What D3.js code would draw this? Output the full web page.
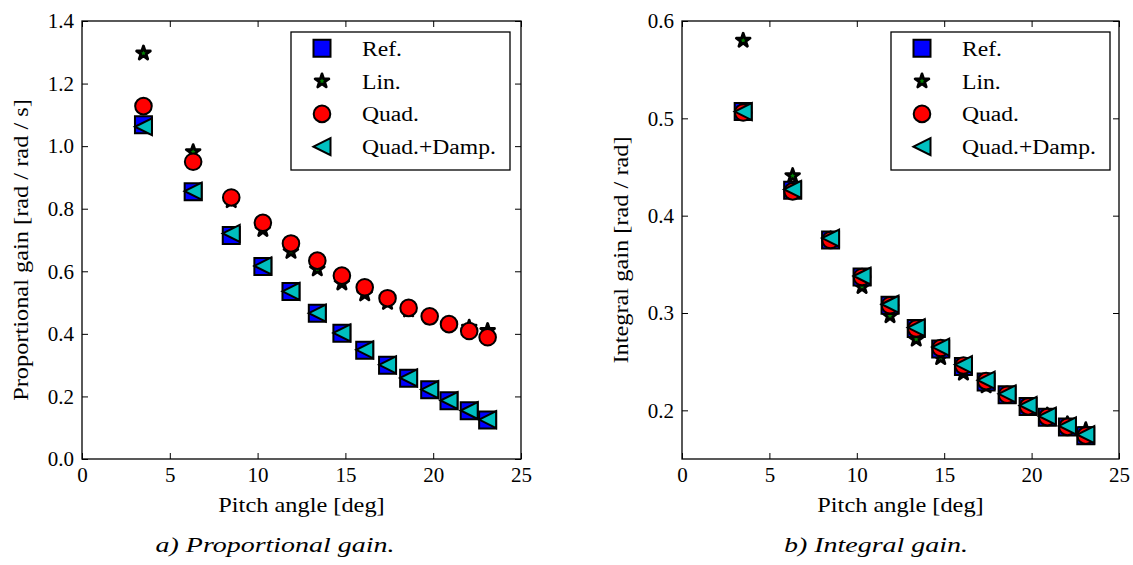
<!DOCTYPE html>
<html><head><meta charset="utf-8">
<script src="https://cdn.jsdelivr.net/npm/d3@7"></script>
<style>
body{margin:0;background:#fff}
text{font-family:"Liberation Serif",serif;fill:#000}
</style>
</head><body>
<svg id="c" width="1133" height="565"></svg>
<script>
// ---- data ----
const pitch = [3.5, 6.33, 8.5, 10.3, 11.9, 13.4, 14.8, 16.1, 17.4, 18.6, 19.8, 20.9, 22.05, 23.1];

const refP  = [1.068, 0.854, 0.714, 0.615, 0.535, 0.466, 0.402, 0.348, 0.300, 0.258, 0.221, 0.186, 0.154, 0.125];
const linP  = [1.297, 0.982, 0.825, 0.733, 0.663, 0.607, 0.562, 0.527, 0.500, 0.476, 0.453, 0.431, 0.421, 0.410];
const quadP = [1.128, 0.950, 0.836, 0.755, 0.689, 0.634, 0.586, 0.549, 0.514, 0.483, 0.456, 0.431, 0.409, 0.389];
const dampP = [1.062, 0.856, 0.721, 0.617, 0.536, 0.466, 0.403, 0.349, 0.301, 0.259, 0.222, 0.187, 0.155, 0.126];

const refI  = [0.507, 0.426, 0.375, 0.337, 0.308, 0.284, 0.263, 0.245, 0.229, 0.216, 0.204, 0.193, 0.183, 0.174];
const linI  = [0.580, 0.441, 0.376, 0.327, 0.297, 0.273, 0.254, 0.238, 0.225, 0.214, 0.203, 0.195, 0.186, 0.180];
const quadI = [0.506, 0.425, 0.375, 0.337, 0.308, 0.284, 0.264, 0.246, 0.230, 0.216, 0.204, 0.193, 0.183, 0.174];
const dampI = [0.507, 0.427, 0.377, 0.338, 0.309, 0.285, 0.265, 0.247, 0.231, 0.217, 0.205, 0.194, 0.184, 0.175];

const seriesNames = ["Ref.", "Lin.", "Quad.", "Quad.+Damp."];
const xTicks  = [0, 5, 10, 15, 20, 25];
const yTicksP = [0.0, 0.2, 0.4, 0.6, 0.8, 1.0, 1.2, 1.4];
const yTicksI = [0.2, 0.3, 0.4, 0.5, 0.6];
const xLabel = "Pitch angle [deg]";
const yLabels = ["Proportional gain [rad / rad / s]", "Integral gain [rad / rad]"];
const captions = ["a) Proportional gain.", "b) Integral gain."];

// ---- drawing ----
const svg = d3.select("#c");
svg.append("rect").attr("width",1133).attr("height",565).attr("fill","#fff");

function stretch(sel, k){
  sel.each(function(){
    const w = this.getComputedTextLength();
    this.setAttribute("textLength", w*k);
    this.setAttribute("lengthAdjust","spacingAndGlyphs");
  });
}

const TOP = 21, BOT = 459;
const markers = {
  "Ref.":        {path: d3.symbol(d3.symbolSquare, 17*17)(), fill:"#0000ff", sw:2},
  "Lin.":        {path: d3.symbol(d3.symbolStar, 7.2*7.2/0.8908130915292852)(), fill:"#008000", sw:2.8},
  "Quad.":       {path: d3.symbol(d3.symbolCircle, Math.PI*8.3*8.3)(), fill:"#ff0000", sw:2},
  "Quad.+Damp.": {path: (h => `M${-h},0L${h},${-h}L${h},${h}Z`)(8.5), fill:"#00bfbf", sw:2}
};

function panel(cfg){
  const g = svg.append("g");
  const x = d3.scaleLinear().domain([0,25]).range([cfg.x0, cfg.x1]);
  const y = d3.scaleLinear().domain(cfg.yDomain).range([BOT, TOP]);

  const styleAxis = a => {
    a.select(".domain").remove();
    a.selectAll("line").attr("stroke","#000").attr("stroke-width",1);
    a.selectAll("text").attr("font-family","Liberation Serif").attr("font-size",21).attr("fill","#000");
    a.attr("font-family",null);
  };

  g.append("g").attr("transform",`translate(0,${BOT})`)
    .call(d3.axisBottom(x).tickValues(xTicks).tickFormat(d3.format("d")).tickSizeInner(-6).tickSizeOuter(0).tickPadding(8))
    .call(styleAxis);
  g.append("g").attr("transform",`translate(0,${TOP})`)
    .call(d3.axisTop(x).tickValues(xTicks).tickFormat("").tickSizeInner(-6).tickSizeOuter(0))
    .call(styleAxis);
  g.append("g").attr("transform",`translate(${cfg.x0},0)`)
    .call(d3.axisLeft(y).tickValues(cfg.yTicks).tickFormat(d3.format(".1f")).tickSizeInner(-6).tickSizeOuter(0).tickPadding(8))
    .call(styleAxis);
  g.append("g").attr("transform",`translate(${cfg.x1},0)`)
    .call(d3.axisRight(y).tickValues(cfg.yTicks).tickFormat("").tickSizeInner(-6).tickSizeOuter(0))
    .call(styleAxis);

  g.append("rect").attr("x",cfg.x0).attr("y",TOP).attr("width",cfg.x1-cfg.x0).attr("height",BOT-TOP)
    .attr("fill","none").attr("stroke","#000").attr("stroke-width",1.3);

  // series in draw order
  const order = [["Lin.", cfg.lin], ["Ref.", cfg.ref], ["Quad.", cfg.quad], ["Quad.+Damp.", cfg.damp]];
  const plot = g.append("g");
  order.forEach(([name, vals]) => {
    const m = markers[name];
    plot.append("g").selectAll("path").data(vals).join("path")
      .attr("d", m.path)
      .attr("transform",(d,i)=>`translate(${x(pitch[i])},${y(d)})`)
      .attr("fill", m.fill).attr("stroke","#000").attr("stroke-width",m.sw)
      .attr("stroke-linejoin", name==="Lin." ? "round" : "miter");
  });

  // legend
  const lx = cfg.x0 + 209, ly = 32;
  const lg = g.append("g");
  lg.append("rect").attr("x",lx).attr("y",ly).attr("width",219).attr("height",138)
    .attr("fill","#fff").attr("stroke","#000").attr("stroke-width",1.3);
  seriesNames.forEach((name,i) => {
    const ry = 48.3 + i*32.8;
    const m = markers[name];
    lg.append("path").attr("d", m.path).attr("transform",`translate(${cfg.x0+240},${ry})`)
      .attr("fill", m.fill).attr("stroke","#000").attr("stroke-width",m.sw)
      .attr("stroke-linejoin", name==="Lin." ? "round" : "miter");
    lg.append("text").attr("x", cfg.x0+280).attr("y", ry+7.5).attr("font-size",20).text(name)
      .call(stretch, 1.18);
  });

  // labels
  g.append("text").attr("x",(cfg.x0+cfg.x1)/2).attr("y",512).attr("text-anchor","middle")
    .attr("font-size",21).text(xLabel).call(stretch, 1.16);
  g.append("text").attr("transform",`translate(${cfg.labelX},250) rotate(-90)`).attr("text-anchor","middle")
    .attr("font-size",21).text(cfg.yLabel).call(stretch, 1.16);
  g.append("text").attr("x",cfg.capX).attr("y",552).attr("text-anchor","middle")
    .attr("font-size",22).attr("font-style","italic").text(cfg.caption).call(stretch, 1.27);
}

panel({x0:82, x1:521, yDomain:[0,1.4], yTicks:yTicksP, ref:refP, lin:linP, quad:quadP, damp:dampP,
       labelX:28, yLabel:yLabels[0], capX:275, caption:captions[0]});
panel({x0:682, x1:1119, yDomain:[0.15,0.6], yTicks:yTicksI, ref:refI, lin:linI, quad:quadI, damp:dampI,
       labelX:628, yLabel:yLabels[1], capX:876, caption:captions[1]});
</script>
</body></html>
